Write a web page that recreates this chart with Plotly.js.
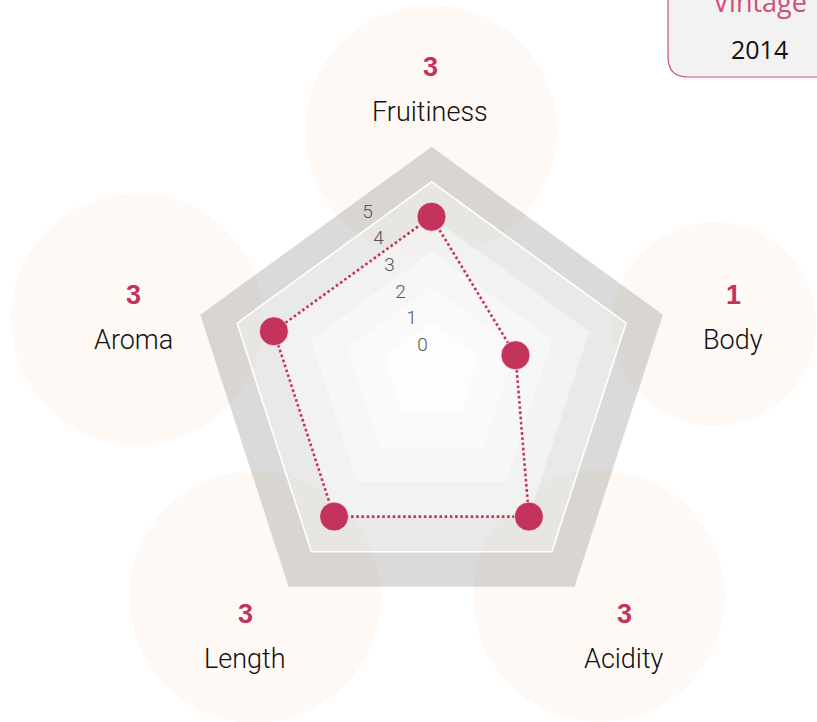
<!DOCTYPE html>
<html>
<head>
<meta charset="utf-8">
<script src="https://cdn.plot.ly/plotly-3.0.1.min.js"></script>
<style>html,body{margin:0;padding:0;background:#fff;}#chart{width:817px;height:722px;}</style>
</head>
<body>
<div id="chart"></div>
<script>
// ---- data ----
const categories = ['Fruitiness', 'Body', 'Acidity', 'Length', 'Aroma'];
const values = [3, 1, 3, 3, 3];
const radialTicks = [0, 1, 2, 3, 4, 5];
const bandLevels = [5, 4, 3, 2, 1, 0];
const vintageLabel = 'Vintage';
const vintageYear = '2014';

// ---- layout helpers (positions / styles) ----
const W = 817, H = 722;
const RMIN = -1.28, RMAX = 5;          // radial range of the data axis
const UNIT = 38.73;                    // px per radial unit
const CX = 431.6;
const bandCenterY = v => 371.5 + 3.7 * v;
const bandFill = {5: 'rgba(0,0,0,0.145)', 4: 'rgba(255,255,255,0.40)', 3: 'rgba(255,255,255,0.43)',
                  2: 'rgba(255,255,255,0.40)', 1: 'rgba(255,255,255,0.40)', 0: 'rgba(255,255,255,0.55)'};
// decorative bubble centres and label anchors (px), in category order
const bubbleX = [431, 714, 599, 255, 137];
const bubbleY = [131, 324, 596, 597, 319];
const labelX = [430, 733, 624, 245, 133];
const labelY = [67, 295, 614, 614, 295];
const crimson = '#c3335c';
const FONT = 'Roboto, "Liberation Sans", Arial, sans-serif';

function dom(cx, cy, R) {
  return {x: [(cx - R) / W, (cx + R) / W], y: [1 - (cy + R) / H, 1 - (cy - R) / H]};
}
function angular(extra) {
  return Object.assign({type: 'category', categoryorder: 'array', categoryarray: categories,
    rotation: 90, direction: 'clockwise', showgrid: false, showticklabels: false,
    ticks: '', showline: false}, extra || {});
}

const traces = [];
const layout = {
  width: W, height: H, margin: {l: 0, r: 0, t: 0, b: 0, pad: 0},
  paper_bgcolor: '#ffffff', plot_bgcolor: 'rgba(0,0,0,0)', showlegend: false, hovermode: false,
  xaxis: {range: [0, W], visible: false, fixedrange: true},
  yaxis: {range: [H, 0], visible: false, fixedrange: true},
  shapes: [], annotations: []
};

// decorative bubbles (size from value)
traces.push({type: 'scatter', x: bubbleX, y: bubbleY, mode: 'markers', hoverinfo: 'skip',
  marker: {size: values.map(v => 2 * (90 + 12 * v)), color: '#fdf6ef', line: {width: 0}}});

// bands: one polar subplot each (pentagon background)
bandLevels.forEach((v, i) => {
  const id = i === 0 ? 'polar' : 'polar' + (i + 1);
  const R = (v - RMIN) * UNIT;
  layout[id] = {
    domain: dom(CX, bandCenterY(v), R), gridshape: 'linear', bgcolor: bandFill[v],
    radialaxis: {visible: false, range: [0, 1]},
    angularaxis: angular(v === 4 ? {showline: true, linecolor: '#ffffff', linewidth: 1.6} : {visible: false})
  };
  traces.push({type: 'scatterpolar', subplot: id, theta: categories, r: categories.map(() => 0),
    mode: 'none', hoverinfo: 'skip'});
});

// tick label axis
const tickId = 'polar' + (bandLevels.length + 1);
const tickPxPerUnit = 28.8, tickR = 200, tickMin = -1.406;
layout[tickId] = {
  domain: dom(423.5, 382.5, tickR), bgcolor: 'rgba(0,0,0,0)',
  radialaxis: {range: [tickMin, tickMin + tickR / tickPxPerUnit], angle: 112.5, tickvals: radialTicks,
    ticktext: radialTicks.map(String), showline: false, showgrid: false, ticks: '', tickangle: 112.5,
    tickfont: {family: FONT, size: 19, color: '#555555', weight: 300}},
  angularaxis: angular({visible: false})
};
traces.push({type: 'scatterpolar', subplot: tickId, theta: categories, r: categories.map(() => 0),
  mode: 'none', hoverinfo: 'skip'});

// data axis
const dataId = 'polar' + (bandLevels.length + 2);
layout[dataId] = {
  domain: dom(431.5, 382.5, (RMAX - RMIN) * UNIT), gridshape: 'linear', bgcolor: 'rgba(0,0,0,0)',
  radialaxis: {visible: false, range: [RMIN, RMAX]},
  angularaxis: angular({visible: false})
};
traces.push({type: 'scatterpolar', subplot: dataId, theta: categories.concat([categories[0]]),
  r: values.concat([values[0]]), mode: 'lines+markers', hoverinfo: 'skip', cliponaxis: true,
  line: {color: crimson, width: 2.6, dash: '2.6px,2.6px'},
  marker: {size: 29, color: crimson, line: {color: 'rgba(255,255,255,0.7)', width: 1}}});

// category labels and values
categories.forEach((c, i) => {
  layout.annotations.push({xref: 'x', yref: 'y', x: labelX[i], y: labelY[i], text: String(values[i]),
    showarrow: false, xanchor: 'center', yanchor: 'middle',
    font: {family: '"Liberation Sans", Arial, sans-serif', size: 27, color: crimson, weight: 700}});
  layout.annotations.push({xref: 'x', yref: 'y', x: labelX[i], y: labelY[i] + 45, text: c,
    showarrow: false, xanchor: 'center', yanchor: 'middle',
    font: {family: FONT, size: 27, color: '#111111', weight: 300}});
});

// vintage box
layout.shapes.push({type: 'path', xref: 'x', yref: 'y', layer: 'above',
  path: 'M 668,-20 L 668,57 Q 668,77 688,77 L 860,77 L 860,-20 Z',
  fillcolor: '#f2f2f2', line: {color: '#cf4d74', width: 1.2}});
layout.annotations.push({xref: 'x', yref: 'y', x: 760, y: 1, text: vintageLabel, showarrow: false,
  xanchor: 'center', yanchor: 'middle', font: {family: '"Open Sans", sans-serif', size: 27, color: '#d0507a'}});
layout.annotations.push({xref: 'x', yref: 'y', x: 759, y: 49, text: vintageYear, showarrow: false,
  xanchor: 'center', yanchor: 'middle', font: {family: '"Open Sans", sans-serif', size: 25, color: '#111111'}});

Plotly.newPlot('chart', traces, layout, {displayModeBar: false, staticPlot: true});
</script>
</body>
</html>
